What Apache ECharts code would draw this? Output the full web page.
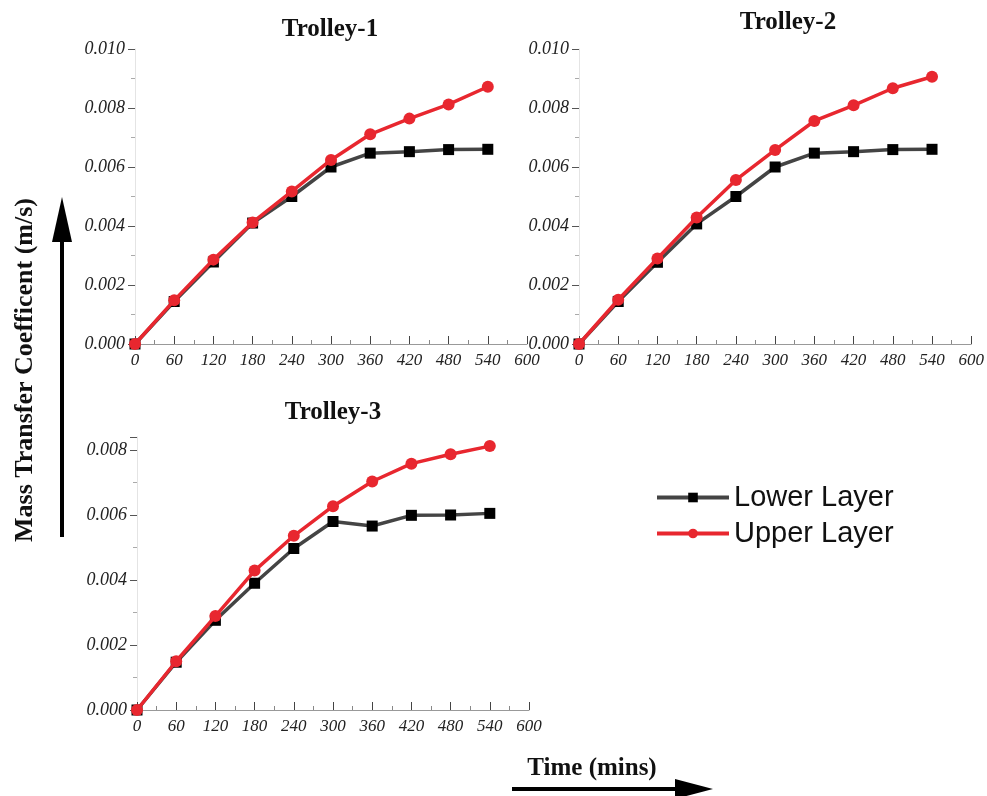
<!DOCTYPE html>
<html>
<head>
<meta charset="utf-8">
<script src="https://cdn.jsdelivr.net/npm/echarts@6/dist/echarts.min.js"></script>
<style>html,body{margin:0;padding:0;background:#fff}#c{width:987px;height:796px}</style>
</head>
<body>
<div id="c"></div>
<script>
var times = [0, 60, 120, 180, 240, 300, 360, 420, 480, 540];
var t1Lower = [0, 0.00144, 0.00278, 0.0041, 0.0050, 0.0060, 0.00647, 0.00652, 0.00659, 0.0066];
var t1Upper = [0, 0.00148, 0.00286, 0.00412, 0.00517, 0.00624, 0.00711, 0.00764, 0.00812, 0.00872];
var t2Lower = [0, 0.00144, 0.00277, 0.00407, 0.0050, 0.0060, 0.00647, 0.00652, 0.00659, 0.0066];
var t2Upper = [0, 0.0015, 0.0029, 0.00429, 0.00556, 0.00658, 0.00756, 0.00809, 0.00867, 0.00906];
var t3Lower = [0, 0.00147, 0.00276, 0.0039, 0.00497, 0.0058, 0.00566, 0.00599, 0.0060, 0.00605];
var t3Upper = [0, 0.0015, 0.00289, 0.00429, 0.00536, 0.00627, 0.00703, 0.00758, 0.00787, 0.00812];
var titles = ['Trolley-1', 'Trolley-2', 'Trolley-3'];

function pairs(v) { return times.map(function (t, i) { return [t, v[i]]; }); }

function xAx(gi) {
  return {
    type: 'value', gridIndex: gi, min: 0, max: 600, interval: 60,
    axisLine: { lineStyle: { color: '#999', width: 1 } },
    axisTick: { show: true, inside: true, length: 8, lineStyle: { color: '#444' } },
    minorTick: { show: true, splitNumber: 2, length: 4, lineStyle: { color: '#888' } },
    splitLine: { show: false },
    axisLabel: { margin: 8, fontFamily: 'Liberation Serif', fontStyle: 'italic', fontSize: 17, color: '#222' }
  };
}
function yAx(gi, max) {
  return {
    type: 'value', gridIndex: gi, min: 0, max: max, interval: 0.002,
    axisLine: { show: true, lineStyle: { color: '#e4e4e4', width: 1 } },
    axisTick: { show: true, inside: false, length: 7, lineStyle: { color: '#555' } },
    minorTick: { show: true, splitNumber: 2, length: 4, lineStyle: { color: '#aaa' } },
    splitLine: { show: false },
    axisLabel: { margin: 10, showMaxLabel: max === 0.010 ? true : false,
      formatter: function (v) { return v.toFixed(3); },
      fontFamily: 'Liberation Serif', fontStyle: 'italic', fontSize: 18, color: '#222' }
  };
}
function lower(gi, v) {
  return { name: 'Lower Layer', type: 'line', xAxisIndex: gi, yAxisIndex: gi, data: pairs(v),
    symbol: 'rect', symbolSize: 11, lineStyle: { color: '#444', width: 3.5 },
    itemStyle: { color: '#000' }, z: 2 };
}
function upper(gi, v) {
  return { name: 'Upper Layer', type: 'line', xAxisIndex: gi, yAxisIndex: gi, data: pairs(v),
    symbol: 'circle', symbolSize: 12, lineStyle: { color: '#e8272f', width: 3.5 },
    itemStyle: { color: '#e8272f' }, z: 3 };
}

var titleStyle = { fontFamily: 'Liberation Serif', fontWeight: 'bold', fontSize: 25, color: '#111' };
var chart = echarts.init(document.getElementById('c'));
chart.setOption({
  animation: false,
  backgroundColor: '#fff',
  title: [
    { text: titles[0], left: 325, top: 12, textAlign: 'center', textStyle: titleStyle },
    { text: titles[1], left: 783, top: 5, textAlign: 'center', textStyle: titleStyle },
    { text: titles[2], left: 328, top: 395, textAlign: 'center', textStyle: titleStyle }
  ],
  legend: {
    data: ['Lower Layer', 'Upper Layer'], orient: 'vertical', left: 650, top: 478,
    itemWidth: 72, itemHeight: 12, itemGap: 7,
    lineStyle: { width: 4 },
    textStyle: { fontFamily: 'Liberation Sans', fontSize: 29, color: '#111' }
  },
  grid: [
    { left: 135, right: 460, top: 49, bottom: 452 },
    { left: 579, right: 15, top: 49, bottom: 452 },
    { left: 137, right: 458, top: 437, bottom: 86 }
  ],
  xAxis: [xAx(0), xAx(1), xAx(2)],
  yAxis: [yAx(0, 0.010), yAx(1, 0.010), yAx(2, 0.0084)],
  series: [lower(0, t1Lower), upper(0, t1Upper), lower(1, t2Lower), upper(1, t2Upper), lower(2, t3Lower), upper(2, t3Upper)],
  graphic: [
    { type: 'line', shape: { x1: 62, y1: 537, x2: 62, y2: 230 }, style: { stroke: '#000', lineWidth: 4 } },
    { type: 'polygon', shape: { points: [[62, 197], [52, 242], [72, 242]] }, style: { fill: '#000' } },
    { type: 'text', x: 25, y: 370, rotation: Math.PI / 2,
      style: { text: 'Mass Transfer Coefficent (m/s)', fontFamily: 'Liberation Serif', fontWeight: 'bold', fontSize: 26, fill: '#111', align: 'center', verticalAlign: 'middle' } },
    { type: 'line', shape: { x1: 512, y1: 789, x2: 680, y2: 789 }, style: { stroke: '#000', lineWidth: 4 } },
    { type: 'polygon', shape: { points: [[713, 789], [675, 779], [675, 799]] }, style: { fill: '#000' } },
    { type: 'text', x: 592, y: 769,
      style: { text: 'Time (mins)', fontFamily: 'Liberation Serif', fontWeight: 'bold', fontSize: 25, fill: '#111', align: 'center', verticalAlign: 'middle' } }
  ]
});
</script>
</body>
</html>
